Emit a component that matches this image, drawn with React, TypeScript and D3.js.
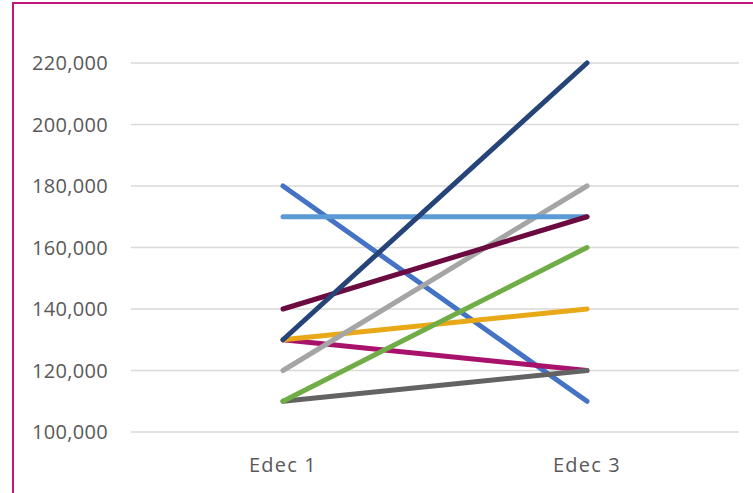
import React, { useEffect, useRef } from "react";
import * as d3 from "d3";

const categories = ["Edec 1", "Edec 3"];
const yTicks = [100000, 120000, 140000, 160000, 180000, 200000, 220000];

type Series = { name: string; color: string; values: number[] };
// drawn in this order (later ones on top)
const seriesList: Series[] = [
  { name: "S1", color: "#4472C4", values: [180000, 110000] },
  { name: "S3", color: "#A9126B", values: [130000, 120000] },
  { name: "S2", color: "#636363", values: [110000, 120000] },
  { name: "S4", color: "#E8A817", values: [130000, 140000] },
  { name: "S6", color: "#A5A5A5", values: [120000, 180000] },
  { name: "S8", color: "#5B9BD5", values: [170000, 170000] },
  { name: "S5", color: "#6B0B3F", values: [140000, 170000] },
  { name: "S7", color: "#70AD47", values: [110000, 160000] },
  { name: "S9", color: "#264478", values: [130000, 220000] },
];

export default function App() {
  const ref = useRef<HTMLDivElement | null>(null);

  useEffect(() => {
    if (!ref.current) return;
    d3.select(ref.current).selectAll("svg").remove();

    const width = 753;
    const height = 493;
    const left = 131;
    const right = 739;

    const svg = d3
      .select(ref.current)
      .append("svg")
      .attr("width", width)
      .attr("height", height)
      .style("display", "block");

    svg.append("rect").attr("width", width).attr("height", height).attr("fill", "#fff");

    // frame, cut off at right and bottom
    svg
      .append("rect")
      .attr("x", 13)
      .attr("y", 3)
      .attr("width", 800)
      .attr("height", 600)
      .attr("fill", "none")
      .attr("stroke", "#C0187A")
      .attr("stroke-width", 2);

    const x = d3.scaleBand<string>().domain(categories).range([left, right]);
    const y = d3.scaleLinear().domain([100000, 220000]).range([432, 63]);

    svg
      .append("g")
      .selectAll("line")
      .data(yTicks)
      .join("line")
      .attr("x1", left)
      .attr("x2", right)
      .attr("y1", (d) => y(d))
      .attr("y2", (d) => y(d))
      .attr("stroke", "#D9D9D9")
      .attr("stroke-width", 1.5);

    svg
      .append("g")
      .attr("font-family", "'Open Sans', sans-serif")
      .attr("font-size", 20)
      .attr("fill", "#595959")
      .attr("text-anchor", "end")
      .selectAll("text")
      .data(yTicks)
      .join("text")
      .attr("x", 108)
      .attr("y", (d) => y(d))
      .attr("dy", "0.36em")
      .attr("letter-spacing", 0.3)
      .text((d) => d3.format(",")(d));

    svg
      .append("g")
      .attr("font-family", "'Open Sans', sans-serif")
      .attr("font-size", 20)
      .attr("fill", "#595959")
      .attr("text-anchor", "middle")
      .selectAll("text")
      .data(categories)
      .join("text")
      .attr("x", (d) => x(d)! + x.bandwidth() / 2)
      .attr("y", 472)
      .attr("letter-spacing", 1.2)
      .text((d) => d);

    const line = d3
      .line<number>()
      .x((_, i) => x(categories[i])! + x.bandwidth() / 2)
      .y((d) => y(d));

    svg
      .append("g")
      .selectAll("path")
      .data(seriesList)
      .join("path")
      .attr("d", (d) => line(d.values))
      .attr("fill", "none")
      .attr("stroke", (d) => d.color)
      .attr("stroke-width", 5)
      .attr("stroke-linecap", "round");
  }, []);

  return (
    <div ref={ref} style={{ position: "absolute", left: 0, top: 0 }}></div>
  );
}
